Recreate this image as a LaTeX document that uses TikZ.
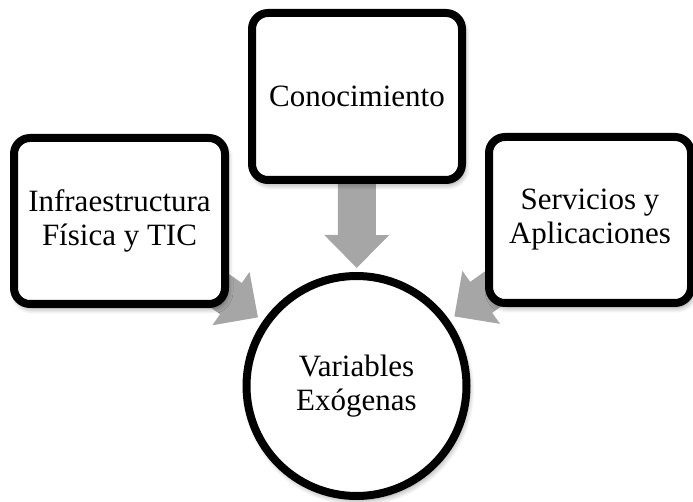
\documentclass[tikz,border=0pt]{standalone}
\usepackage{fontspec}
\setmainfont{Liberation Serif}
\usetikzlibrary{arrows.meta,shadows.blur}
\definecolor{arrowgray}{RGB}{166,166,166}
\pgfdeclarelayer{bg}
\pgfsetlayers{bg,main}
\begin{document}
\begin{tikzpicture}[x=1pt,y=-1pt,
  softshadow/.style={blur shadow={shadow xshift=2pt, shadow yshift=-4pt, shadow blur radius=6pt, shadow blur steps=8, shadow opacity=45}},
  box/.style={draw=black, line width=8pt, fill=white, rounded corners=16pt, align=center, inner sep=0pt, font=\fontsize{31}{34}\selectfont, softshadow},
  circ/.style={circle, draw=black, line width=8pt, fill=white, align=center, inner sep=0pt, font=\fontsize{31}{34}\selectfont, softshadow},
  conn/.style={draw=arrowgray, line width=38pt, -{Triangle[width=63pt,length=33pt]}}
]
\useasboundingbox (0,0) rectangle (693,502);
\node[box, minimum width=210pt, minimum height=167pt] (top) at (357,96.5) {Conocimiento};
\node[box, minimum width=211pt, minimum height=166pt] (left) at (119.5,221) {Infraestructura\\Física y TIC};
\node[box, minimum width=202pt, minimum height=166pt] (right) at (590,220) {Servicios y\\Aplicaciones};
\node[circ, minimum size=220pt] (circ) at (356.5,386) {Variables\\Exógenas};
\begin{pgfonlayer}{bg}
\draw[conn, shorten >=4pt] (top.center) -- (circ);
\draw[conn, shorten >=6pt] (left.center) -- (circ);
\draw[conn, shorten >=6pt] (right.center) -- (circ);
\end{pgfonlayer}
\end{tikzpicture}
\end{document}
